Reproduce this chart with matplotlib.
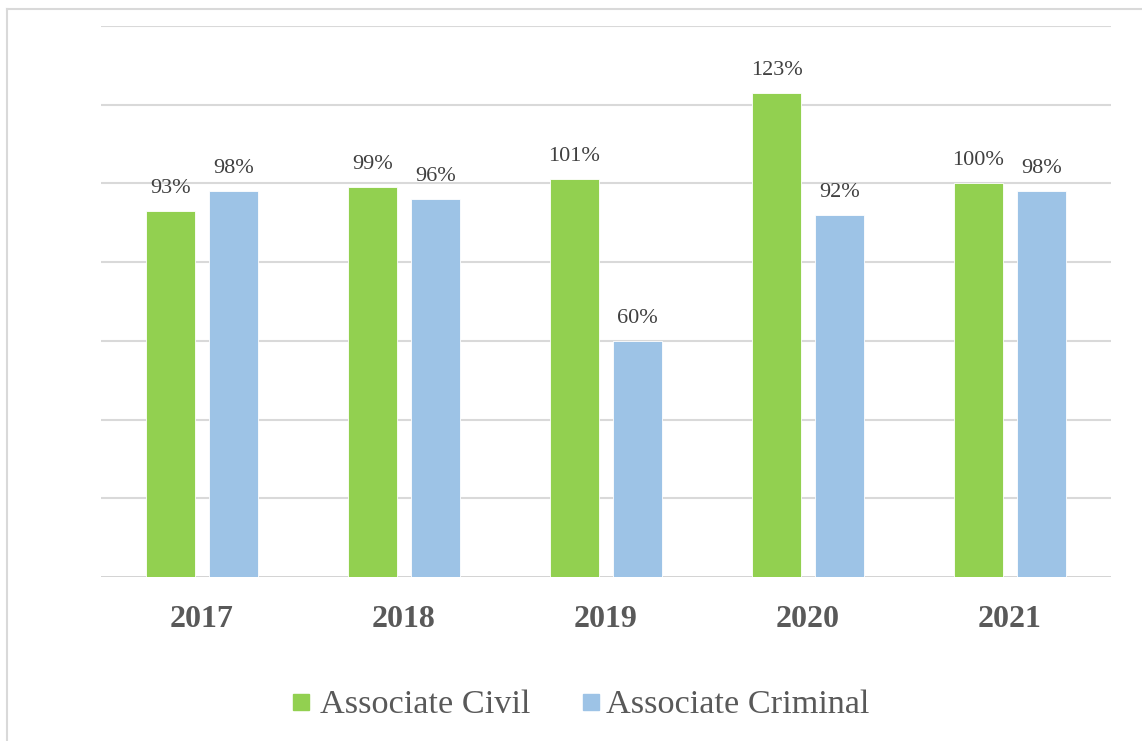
import matplotlib
matplotlib.use("Agg")
import matplotlib.pyplot as plt
from matplotlib.lines import Line2D
from matplotlib.patches import Rectangle
import numpy as np

years = ["2017", "2018", "2019", "2020", "2021"]
civil = [93, 99, 101, 123, 100]
criminal = [98, 96, 60, 92, 98]
series_names = ["Associate Civil", "Associate Criminal"]
colors = ["#92d050", "#9dc3e6"]

W, H = 1142, 741
fig = plt.figure(figsize=(W / 100, H / 100), dpi=100)
fig.patch.set_facecolor("white")
FONT = "Liberation Serif"

# outer chart border (top and left visible)
fig.add_artist(Line2D([7 / W, 1.0], [1 - 9 / H, 1 - 9 / H], color="#d9d9d9", lw=1.5))
fig.add_artist(Line2D([7 / W, 7 / W], [0, 1 - 9 / H], color="#d9d9d9", lw=1.5))

ax = fig.add_axes([101 / W, (H - 577) / H, (1111 - 101) / W, (577 - 26) / H])
ax.set_xlim(-0.5, len(years) - 0.5)
ax.set_ylim(0, 140)
for s in ax.spines.values():
    s.set_visible(False)
ax.set_xticks([])
ax.set_yticks([])
for gy in range(0, 141, 20):
    ax.axhline(gy, color="#d9d9d9" if gy else "#cfcfcf", lw=1.5 if gy else 2.0, zorder=0)

x = np.arange(len(years))
bw = 0.238
off = 0.156
for vals, c, d in [(civil, colors[0], -off), (criminal, colors[1], off)]:
    ax.bar(x + d, vals, width=bw, color=c, edgecolor="white", linewidth=0.6, zorder=2)
    for xi, v in zip(x + d, vals):
        ax.annotate(f"{v}%", (xi, v), xytext=(0, 18), textcoords="offset pixels",
                    ha="center", va="baseline", fontsize=16, color="#404040", family=FONT)

for xi, y in zip(x, years):
    ax.annotate(y, (xi, 0), xytext=(0, -50), textcoords="offset pixels",
                ha="center", va="baseline", fontsize=23, fontweight="bold",
                color="#595959", family=FONT)

# legend
ly = 702
items = [(293, 320, series_names[0], colors[0]), (583, 606, series_names[1], colors[1])]
for px, tx, name, c in items:
    fig.add_artist(Rectangle((px / W, (H - ly - 8) / H), 16 / W, 16 / H,
                             transform=fig.transFigure, color=c))
    fig.text(tx / W, (H - ly - 11) / H, name, ha="left", va="baseline",
             fontsize=24.7, color="#595959", family=FONT)

fig.savefig("out.png", dpi=100, facecolor="white")
